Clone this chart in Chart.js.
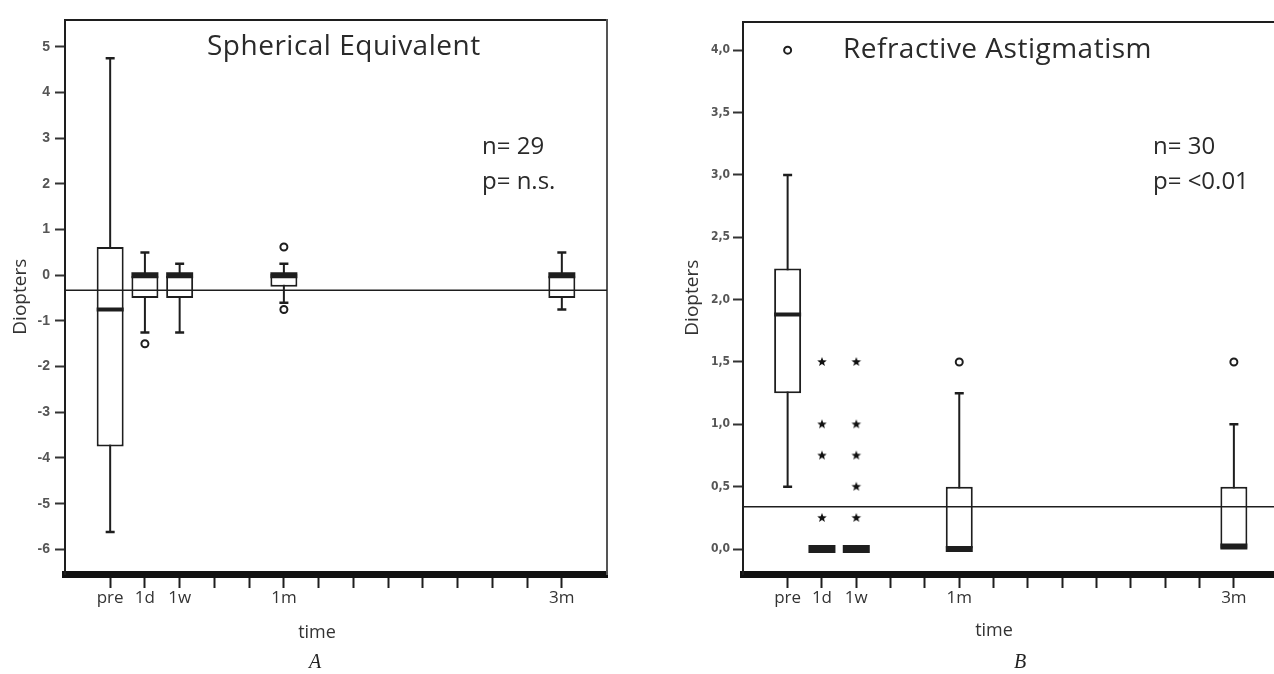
<!DOCTYPE html>
<html><head><meta charset="utf-8">
<script src="https://cdn.jsdelivr.net/npm/chart.js@4"></script>
<style>
html,body{margin:0;padding:0;width:1274px;height:674px;overflow:hidden;background:#fff;position:relative}
.c{position:absolute;top:0;height:674px}
.t{position:absolute;font-family:'Open Sans',sans-serif;color:#2a2a2a;white-space:nowrap;line-height:1}
.ttl{font-size:28px;letter-spacing:0.5px}
.st{font-size:24px}
.ax{font-size:18px;color:#333;transform:translateX(-50%)}
.cap{position:absolute;font-family:'Liberation Serif',serif;font-style:italic;font-size:20px;color:#222;line-height:1;transform:translateX(-50%)}
</style></head><body>
<div class="c" style="left:0;width:640px"><canvas id="cA" width="640" height="674"></canvas></div>
<div class="c" style="left:640px;width:660px"><canvas id="cB" width="660" height="674"></canvas></div>
<div class="t ttl" style="left:207px;top:30px">Spherical Equivalent</div>
<div class="t st" style="left:482px;top:133px">n= 29</div>
<div class="t st" style="left:482px;top:168px">p= n.s.</div>
<div class="t ttl" style="left:843px;top:33px">Refractive Astigmatism</div>
<div class="t st" style="left:1153px;top:133px">n= 30</div>
<div class="t st" style="left:1153px;top:168px">p= &lt;0.01</div>
<div class="t ax" style="left:317px;top:622px">time</div>
<div class="t ax" style="left:994px;top:620px">time</div>
<div class="cap" style="left:315px;top:651px">A</div>
<div class="cap" style="left:1020px;top:651px">B</div>
<script>
// ---- shared x axis ----
const tickPositions = [0,1,2,3,4,5,6,7,8,9,10,11,12,13];
const tickLabels = ['pre','1d','1w','','','1m','','','','','','','','3m'];
const groupPos = [0,1,2,5,13];
const xRange = [-1.3, 14.3];

// ---- A: Spherical Equivalent ----
const seWhiskerLow  = [-5.62, -1.25, -1.25, -0.6, -0.75];
const seQ1          = [-3.75, -0.5, -0.5, -0.25, -0.5];
const seMedian      = [-0.75, 0, 0, 0, 0];
const seQ3          = [0.62, 0, 0, 0.03, 0];
const seWhiskerHigh = [4.75, 0.5, 0.25, 0.25, 0.5];
const seOutliers    = [[], [-1.5], [], [0.62, -0.75], []];
const seExtremes    = [[], [], [], [], []];
const seRefLine     = -0.33;
const seYTicks      = [-6,-5,-4,-3,-2,-1,0,1,2,3,4,5];
const seYRange      = [-6.54, 5.6];

// ---- B: Refractive Astigmatism ----
const raWhiskerLow  = [0.5, 0, 0, 0, 0];
const raQ1          = [1.25, 0, 0, 0, 0];
const raMedian      = [1.88, 0, 0, 0, 0.02];
const raQ3          = [2.25, 0, 0, 0.5, 0.5];
const raWhiskerHigh = [3.0, 0, 0, 1.25, 1.0];
const raOutliers    = [[4.0], [], [], [1.5], [1.5]];
const raExtremes    = [[], [1.5, 1.0, 0.75, 0.25], [1.5, 1.0, 0.75, 0.5, 0.25], [], []];
const raRefLine     = 0.34;
const raYTicks      = [0,0.5,1,1.5,2,2.5,3,3.5,4];
const raYRange      = [-0.2, 4.23];

function makeStar(r){
  const c = document.createElement('canvas');
  c.width = c.height = 2*r+2;
  const g = c.getContext('2d');
  g.fillStyle = '#111';
  g.beginPath();
  for (let i=0;i<10;i++){
    const a = -Math.PI/2 + i*Math.PI/5;
    const rr = i%2 ? r*0.42 : r;
    g.lineTo(r+1+rr*Math.cos(a), r+1+rr*Math.sin(a));
  }
  g.closePath(); g.fill();
  return c;
}
const star = makeStar(5);
const INK = '#1e1e1e';

function buildDatasets(d){
  const whiskers = [], boxes = [], medians = [], medW = [], caps = [], outl = [], extr = [];
  groupPos.forEach((x,i)=>{
    const lo = d.wl[i], hi = d.wh[i], q1 = d.q1[i], q3 = d.q3[i], m = d.med[i];
    if (hi > lo) whiskers.push({x, y:[lo, hi]});
    if (q3 > q1) boxes.push({x, y:[q1, q3]});
    medians.push({x, y:m});
    medW.push(q3 === q1 ? 8 : ((Math.abs(m-q1) < 0.05 || Math.abs(m-q3) < 0.05) ? 6 : 4));
    if (hi > q3) caps.push({x, y:hi});
    if (lo < q1) caps.push({x, y:lo});
    d.out[i].forEach(v=>outl.push({x, y:v}));
    d.ext[i].forEach(v=>extr.push({x, y:v}));
  });
  return [
    {type:'bar', data:whiskers, grouped:false, maxBarThickness:2, barPercentage:1,
     backgroundColor:INK, borderWidth:0, order:6},
    {type:'bar', data:boxes, grouped:false, maxBarThickness:27, barPercentage:1,
     backgroundColor:'#fff', borderColor:INK, borderWidth:2, borderSkipped:false, order:5},
    {type:'line', data:[{x:xRange[0], y:d.ref},{x:xRange[1], y:d.ref}],
     borderColor:INK, borderWidth:1.5, pointRadius:0, order:3},
    {type:'scatter', data:medians, pointStyle:'line', pointRadius:13.5,
     pointBorderWidth:medW, pointBorderColor:INK, order:2},
    {type:'scatter', data:caps, pointStyle:'line', pointRadius:4.5,
     pointBorderWidth:2.5, pointBorderColor:INK, order:2},
    {type:'scatter', data:outl, pointStyle:'circle', pointRadius:3.5,
     pointBorderWidth:2, pointBorderColor:INK, pointBackgroundColor:'#fff', order:1},
    {type:'scatter', data:extr, pointStyle:star, order:1}
  ];
}

function makeChart(id, d, cfg){
  return new Chart(document.getElementById(id), {
    type:'bar',
    data:{datasets:buildDatasets(d)},
    options:{
      responsive:false, animation:false,
      layout:{padding:{left:0, top:cfg.padTop, right:cfg.padRight, bottom:0}},
      plugins:{legend:{display:false}, tooltip:{enabled:false}},
      scales:{
        x:{type:'linear', position:'bottom', min:xRange[0], max:xRange[1], offset:false,
           afterBuildTicks:s=>{s.ticks = tickPositions.map(v=>({value:v}));},
           afterFit:s=>{s.height = 100;},
           ticks:{autoSkip:false, maxRotation:0, padding:0, color:'#333',
                  font:{family:'Open Sans', size:17},
                  callback:v=>tickLabels[tickPositions.indexOf(v)] || ''},
           grid:{offset:false, drawOnChartArea:false, tickLength:14, tickWidth:2, tickColor:INK},
           border:{color:'#111', width:7}},
        x2:{type:'linear', position:'top', display:true,
           afterFit:s=>{s.height = 0;},
           ticks:{display:false}, grid:{display:false},
           border:{color:INK, width:2}},
        y:{type:'linear', position:'left', min:d.yr[0], max:d.yr[1],
           afterBuildTicks:s=>{s.ticks = d.yt.map(v=>({value:v}));},
           afterFit:s=>{s.width = cfg.yWidth;},
           ticks:{padding:cfg.tickPad, color:'#555', font:cfg.yFont, callback:cfg.fmt},
           grid:{drawOnChartArea:false, tickLength:cfg.tickLen, tickWidth:2, tickColor:'#333'},
           border:{color:INK, width:2},
           title:{display:true, text:'Diopters', color:'#333', font:{family:'Open Sans', size:19},
                  padding:{top:cfg.titlePad, bottom:0}}},
        y2:{type:'linear', position:'right', display:cfg.rightBorder,
           afterFit:s=>{s.width = 0;},
           ticks:{display:false}, grid:{display:false},
           border:{color:'#555', width:2}}
      }
    }
  });
}

makeChart('cA', {wl:seWhiskerLow, q1:seQ1, med:seMedian, q3:seQ3, wh:seWhiskerHigh,
                 out:seOutliers, ext:seExtremes, ref:seRefLine, yt:seYTicks, yr:seYRange},
  {padTop:10, padRight:33, yWidth:65, tickPad:5, tickLen:10, titlePad:9, rightBorder:true,
   yFont:{family:"'Liberation Sans', sans-serif", size:14, weight:'bold'}, fmt:v=>String(v)});

makeChart('cB', {wl:raWhiskerLow, q1:raQ1, med:raMedian, q3:raQ3, wh:raWhiskerHigh,
                 out:raOutliers, ext:raExtremes, ref:raRefLine, yt:raYTicks, yr:raYRange},
  {padTop:14, padRight:18, yWidth:103, tickPad:3, tickLen:10, titlePad:41, rightBorder:false,
   yFont:{family:"'DejaVu Sans Condensed', 'Liberation Sans', sans-serif", size:12, weight:'bold'},
   fmt:v=>v.toFixed(1).replace('.',',')});
</script>
</body></html>
